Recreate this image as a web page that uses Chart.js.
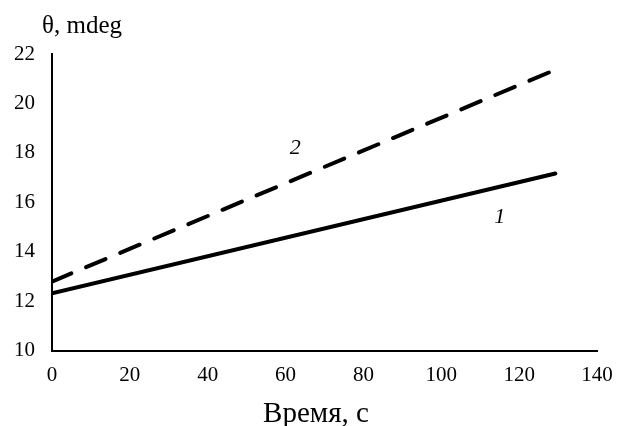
<!DOCTYPE html>
<html>
<head>
<meta charset="utf-8">
<script src="https://cdn.jsdelivr.net/npm/chart.js@4"></script>
<style>
  html, body { margin: 0; padding: 0; background: #fff; }
  #wrap { width: 618px; height: 426px; }
</style>
</head>
<body>
<div id="wrap"><canvas id="angleChart" width="618" height="426"></canvas></div>
<script>
// time, s
const timeLine1 = [0, 129.3];
const thetaLine1 = [12.32, 17.17];
const timeLine2 = [0, 130.6];
const thetaLine2 = [12.8, 21.45];
// curve number labels: [time, theta, text]
const curveLabels = [
  [115, 15.4, "1"],
  [62.5, 18.2, "2"]
];
const xTicks = [0, 20, 40, 60, 80, 100, 120, 140];
const yTicks = [10, 12, 14, 16, 18, 20, 22];
const xTitle = "Время, с";
const yTitle = "θ, mdeg";

const serif = "'Liberation Serif', 'Times New Roman', serif";

function toPoints(xs, ys) {
  return xs.map(function (x, i) { return { x: x, y: ys[i] }; });
}

const extraText = {
  id: "extraText",
  afterDraw: function (chart) {
    const ctx = chart.ctx;
    const xs = chart.scales.x;
    const ys = chart.scales.y;
    ctx.save();
    ctx.fillStyle = "#000";
    ctx.textAlign = "center";
    ctx.textBaseline = "middle";
    ctx.font = "italic 22px " + serif;
    curveLabels.forEach(function (l) {
      ctx.fillText(l[2], xs.getPixelForValue(l[0]), ys.getPixelForValue(l[1]));
    });
    ctx.textBaseline = "alphabetic";
    ctx.font = "29px " + serif;
    ctx.fillText(xTitle, 316, 422);
    ctx.textAlign = "left";
    ctx.font = "25px " + serif;
    ctx.fillText(yTitle, 42, 33);
    ctx.restore();
  }
};

new Chart(document.getElementById("angleChart"), {
  type: "scatter",
  data: {
    datasets: [
      {
        data: toPoints(timeLine1, thetaLine1),
        showLine: true,
        borderColor: "#000",
        borderWidth: 4,
        pointRadius: 0,
        borderCapStyle: "round"
      },
      {
        data: toPoints(timeLine2, thetaLine2),
        showLine: true,
        borderColor: "#000",
        borderWidth: 4,
        pointRadius: 0,
        borderCapStyle: "round",
        borderDash: [21, 16]
      }
    ]
  },
  options: {
    responsive: false,
    animation: false,
    layout: { padding: { top: 54, right: 0, left: 0, bottom: 26 } },
    plugins: { legend: { display: false }, tooltip: { enabled: false } },
    scales: {
      x: {
        type: "linear",
        min: xTicks[0],
        max: xTicks[xTicks.length - 1],
        afterBuildTicks: function (s) { s.ticks = xTicks.map(function (v) { return { value: v }; }); },
        afterFit: function (s) { s.paddingRight = 21; },
        grid: { display: false, drawTicks: false },
        border: { color: "#000", width: 2 },
        ticks: { color: "#000", padding: 12, maxRotation: 0, font: { family: serif, size: 21 } }
      },
      y: {
        type: "linear",
        min: yTicks[0],
        max: yTicks[yTicks.length - 1],
        afterBuildTicks: function (s) { s.ticks = yTicks.map(function (v) { return { value: v }; }); },
        afterFit: function (s) { s.width = s.width - 3; },
        grid: { display: false, drawTicks: false },
        border: { color: "#000", width: 2 },
        ticks: { color: "#000", padding: 17, font: { family: serif, size: 21 } }
      }
    }
  },
  plugins: [extraText]
});
</script>
</body>
</html>
